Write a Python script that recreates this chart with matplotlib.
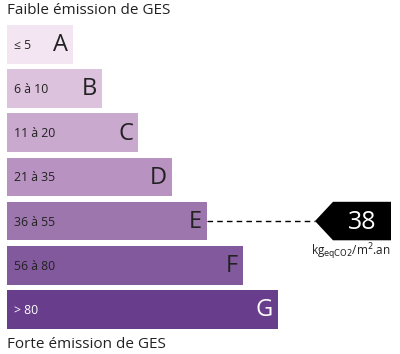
import matplotlib.pyplot as plt
from matplotlib.patches import Rectangle, Polygon

# GES label data
classes = ["A", "B", "C", "D", "E", "F", "G"]
ranges = ["≤ 5", "6 à 10", "11 à 20", "21 à 35", "36 à 55", "56 à 80", "> 80"]
bar_lengths = [66, 95, 131, 165, 200, 236, 271]
colors = ["#f3e5f1", "#dcc2dd", "#c9a9cd", "#b892c0", "#9c76ac", "#83599d", "#683d8b"]
value = 38
value_class = "E"
unit = r"kg$_{\mathrm{eqCO2}}$/m$^{2}$.an"
title_top = "Faible émission de GES"
title_bottom = "Forte émission de GES"

plt.rcParams['font.family'] = ['Open Sans', 'DejaVu Sans']

fig = plt.figure(figsize=(4, 3.54), dpi=100)
ax = fig.add_axes([0, 0, 1, 1])
ax.set_xlim(0, 400)
ax.set_ylim(354, 0)
ax.axis("off")

x0 = 7
top0 = 25
pitch = 44.2
h = 38.5

ax.text(x0, 11, title_top, fontsize=11, color="#222222", va="center", ha="left")
ax.text(x0, 344, title_bottom, fontsize=11, color="#222222", va="center", ha="left")

for i, (c, r, L, col) in enumerate(zip(classes, ranges, bar_lengths, colors)):
    top = top0 + i * pitch
    ax.add_patch(Rectangle((x0, top), L, h, facecolor=col, edgecolor="none"))
    txtcol = "white" if c == "G" else "#222222"
    ax.text(x0 + 7, top + h / 2 + 1, r, fontsize=8.8, color=txtcol, va="center", ha="left")
    ax.text(x0 + L - 5, top + h / 2 + 1, c, fontsize=17, color=txtcol, va="center",
            ha="right")
    if c == value_class:
        yc = top + h / 2
        tip = 315
        ax.plot([x0 + L, tip], [yc, yc], color="black", lw=1, ls=(0, (4, 3)))
        ax.add_patch(Polygon([(tip, yc), (333, top), (391, top),
                              (391, top + h), (333, top + h)],
                             closed=True, facecolor="black", edgecolor="none"))
        ax.text(362, yc + 1, str(value), fontsize=18, color="white", va="center", ha="center")
        ax.text(351, yc + 31, unit, fontsize=8.5, color="#222222", va="center", ha="center")

fig.savefig("out.png", dpi=100)
